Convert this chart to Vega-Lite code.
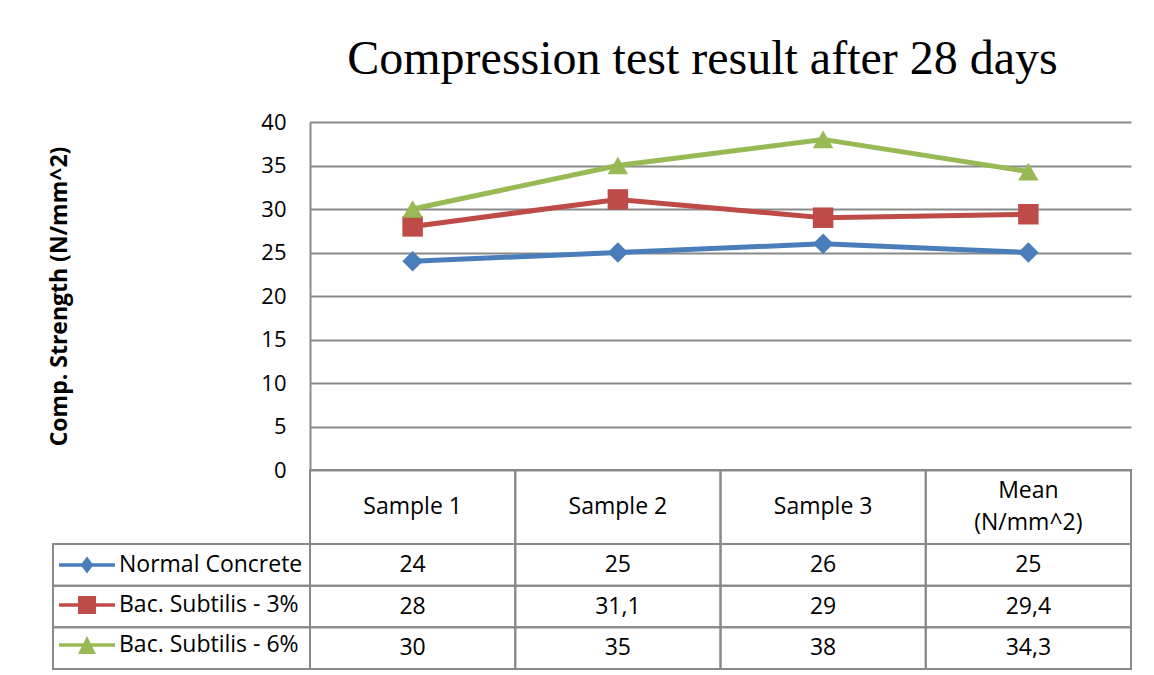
{
  "$schema": "https://vega.github.io/schema/vega-lite/v6.json",
  "background": "white",
  "padding": {"left": 48, "top": 36, "right": 0, "bottom": 0},
  "datasets": {
    "vals": [
      {"sample": "Sample 1", "series": "Normal Concrete", "value": 24},
      {"sample": "Sample 2", "series": "Normal Concrete", "value": 25},
      {"sample": "Sample 3", "series": "Normal Concrete", "value": 26},
      {"sample": "Mean", "series": "Normal Concrete", "value": 25},
      {"sample": "Sample 1", "series": "Bac. Subtilis - 3%", "value": 28},
      {"sample": "Sample 2", "series": "Bac. Subtilis - 3%", "value": 31.1},
      {"sample": "Sample 3", "series": "Bac. Subtilis - 3%", "value": 29},
      {"sample": "Mean", "series": "Bac. Subtilis - 3%", "value": 29.4},
      {"sample": "Sample 1", "series": "Bac. Subtilis - 6%", "value": 30},
      {"sample": "Sample 2", "series": "Bac. Subtilis - 6%", "value": 35},
      {"sample": "Sample 3", "series": "Bac. Subtilis - 6%", "value": 38},
      {"sample": "Mean", "series": "Bac. Subtilis - 6%", "value": 34.3}
    ],
    "head": [
      {"sample": "Sample 1", "label": "Sample 1"},
      {"sample": "Sample 2", "label": "Sample 2"},
      {"sample": "Sample 3", "label": "Sample 3"},
      {"sample": "Mean", "label": "Mean\n(N/mm^2)"}
    ]
  },
  "columns": 2,
  "spacing": 0,
  "bounds": "flush",
  "align": "each",
  "resolve": {"scale": {"x": "independent", "y": "independent", "color": "independent", "shape": "independent"}},
  "concat": [
    {
      "width": 257, "height": 348,
      "data": {"values": [{}]},
      "mark": {"type": "point", "opacity": 0},
      "encoding": {}
    },
    {
      "width": 821, "height": 348,
      "data": {"name": "vals"},
      "title": {"text": "Compression test result after 28 days", "font": "Liberation Serif", "fontSize": 48, "fontWeight": "normal", "color": "black", "anchor": "middle", "frame": "group", "baseline": "alphabetic", "offset": -11, "dx": -18},
      "encoding": {
        "x": {"field": "sample", "type": "nominal", "sort": ["Sample 1", "Sample 2", "Sample 3", "Mean"], "scale": {"type": "point", "padding": 0.5, "domain": ["Sample 1", "Sample 2", "Sample 3", "Mean"]}, "axis": null},
        "y": {"field": "value", "type": "quantitative", "scale": {"domain": [0, 40], "nice": false},
          "axis": {"values": [0, 5, 10, 15, 20, 25, 30, 35, 40], "title": "Comp. Strength (N/mm^2)", "titleFont": "Open Sans", "titleFontSize": 23, "titleFontWeight": "bold", "titleColor": "black", "titlePadding": 189,
            "labelFont": "Open Sans", "labelFontSize": 22, "labelColor": "black", "labelPadding": 24, "ticks": false, "grid": true, "gridColor": "#898989", "gridWidth": 1.8, "domainColor": "#898989", "domainWidth": 2}},
        "color": {"field": "series", "type": "nominal",
          "scale": {"domain": ["Normal Concrete", "Bac. Subtilis - 3%", "Bac. Subtilis - 6%"], "range": ["#4A7EBB", "#BE4B48", "#98B954"]},
          "legend": null
        }
      },
      "layer": [
        {"mark": {"type": "line", "strokeWidth": 5}},
        {"mark": {"type": "point", "filled": true, "opacity": 1, "size": 420},
          "encoding": {"shape": {"field": "series", "type": "nominal", "scale": {"domain": ["Normal Concrete", "Bac. Subtilis - 3%", "Bac. Subtilis - 6%"], "range": ["diamond", "square", "triangle-up"]}, "legend": null}}}
      ]
    },
    {
      "width": 257, "height": 74,
      "data": {"values": [{}]},
      "mark": {"type": "point", "opacity": 0},
      "encoding": {}
    },
    {
      "width": 821, "height": 74,
      "data": {"name": "head"},
      "encoding": {
        "x": {"field": "sample", "type": "nominal", "sort": ["Sample 1", "Sample 2", "Sample 3", "Mean"], "scale": {"domain": ["Sample 1", "Sample 2", "Sample 3", "Mean"], "paddingInner": 0, "paddingOuter": 0}, "axis": null}
      },
      "layer": [
        {"mark": {"type": "rect", "filled": false, "stroke": "#898989", "strokeWidth": 2}},
        {"transform": [{"filter": "datum.sample !== 'Mean'"}],
          "mark": {"type": "text", "font": "Open Sans", "fontSize": 23, "color": "black", "baseline": "middle"},
          "encoding": {"text": {"field": "label", "type": "nominal"}}},
        {"transform": [{"filter": "datum.sample === 'Mean'"}],
          "mark": {"type": "text", "font": "Open Sans", "fontSize": 23, "color": "black", "lineBreak": "\n", "lineHeight": 32, "baseline": "middle", "dy": -16},
          "encoding": {"text": {"field": "label", "type": "nominal"}}}
      ]
    },
    {
      "width": 257, "height": 125,
      "data": {"name": "vals"},
      "transform": [{"filter": "datum.sample === 'Sample 1'"}],
      "encoding": {
        "y": {"field": "series", "type": "nominal", "sort": ["Normal Concrete", "Bac. Subtilis - 3%", "Bac. Subtilis - 6%"], "scale": {"domain": ["Normal Concrete", "Bac. Subtilis - 3%", "Bac. Subtilis - 6%"], "paddingInner": 0, "paddingOuter": 0}, "axis": null}
      },
      "layer": [
        {"mark": {"type": "rect", "filled": false, "stroke": "#898989", "strokeWidth": 2}},
        {"mark": {"type": "point", "filled": true, "opacity": 0},
          "encoding": {
            "color": {"field": "series", "type": "nominal",
              "scale": {"domain": ["Normal Concrete", "Bac. Subtilis - 3%", "Bac. Subtilis - 6%"], "range": ["#4A7EBB", "#BE4B48", "#98B954"]},
              "legend": {"orient": "none", "legendX": 20, "legendY": 7, "direction": "vertical", "title": null, "padding": 0,
                "labelFont": "Open Sans", "labelFontSize": 23, "labelColor": "black", "labelOffset": 18, "labelLimit": 400,
                "symbolSize": 784, "symbolStrokeWidth": 0, "symbolOpacity": 1, "rowPadding": 14}},
            "shape": {"field": "series", "type": "nominal",
              "scale": {"domain": ["Normal Concrete", "Bac. Subtilis - 3%", "Bac. Subtilis - 6%"],
                "range": ["M-2,-0.125H2V0.125H-2Z M0,-0.6L0.46,0L0,0.6L-0.46,0Z", "M-2,-0.125H2V0.125H-2Z M-0.64,-0.64H0.64V0.64H-0.64Z", "M-2,-0.125H2V0.125H-2Z M0,-0.64L0.64,0.64H-0.64Z"]},
              "legend": {"orient": "none", "legendX": 20, "legendY": 7, "direction": "vertical", "title": null, "padding": 0,
                "labelFont": "Open Sans", "labelFontSize": 23, "labelColor": "black", "labelOffset": 18, "labelLimit": 400,
                "symbolSize": 784, "symbolStrokeWidth": 0, "symbolOpacity": 1, "rowPadding": 14}}
          }}
      ]
    },
    {
      "width": 821, "height": 125,
      "data": {"name": "vals"},
      "encoding": {
        "x": {"field": "sample", "type": "nominal", "sort": ["Sample 1", "Sample 2", "Sample 3", "Mean"], "scale": {"domain": ["Sample 1", "Sample 2", "Sample 3", "Mean"], "paddingInner": 0, "paddingOuter": 0}, "axis": null},
        "y": {"field": "series", "type": "nominal", "sort": ["Normal Concrete", "Bac. Subtilis - 3%", "Bac. Subtilis - 6%"], "scale": {"domain": ["Normal Concrete", "Bac. Subtilis - 3%", "Bac. Subtilis - 6%"], "paddingInner": 0, "paddingOuter": 0}, "axis": null}
      },
      "layer": [
        {"mark": {"type": "rect", "filled": false, "stroke": "#898989", "strokeWidth": 2}},
        {"mark": {"type": "text", "font": "Open Sans", "fontSize": 23, "color": "black", "baseline": "middle"},
          "encoding": {"text": {"field": "value", "type": "quantitative", "format": ".3~r"}}}
      ]
    }
  ],
  "config": {
    "view": {"stroke": null},
    "locale": {"number": {"decimal": ",", "thousands": ".", "grouping": [3], "currency": ["", " €"]}}
  }
}
